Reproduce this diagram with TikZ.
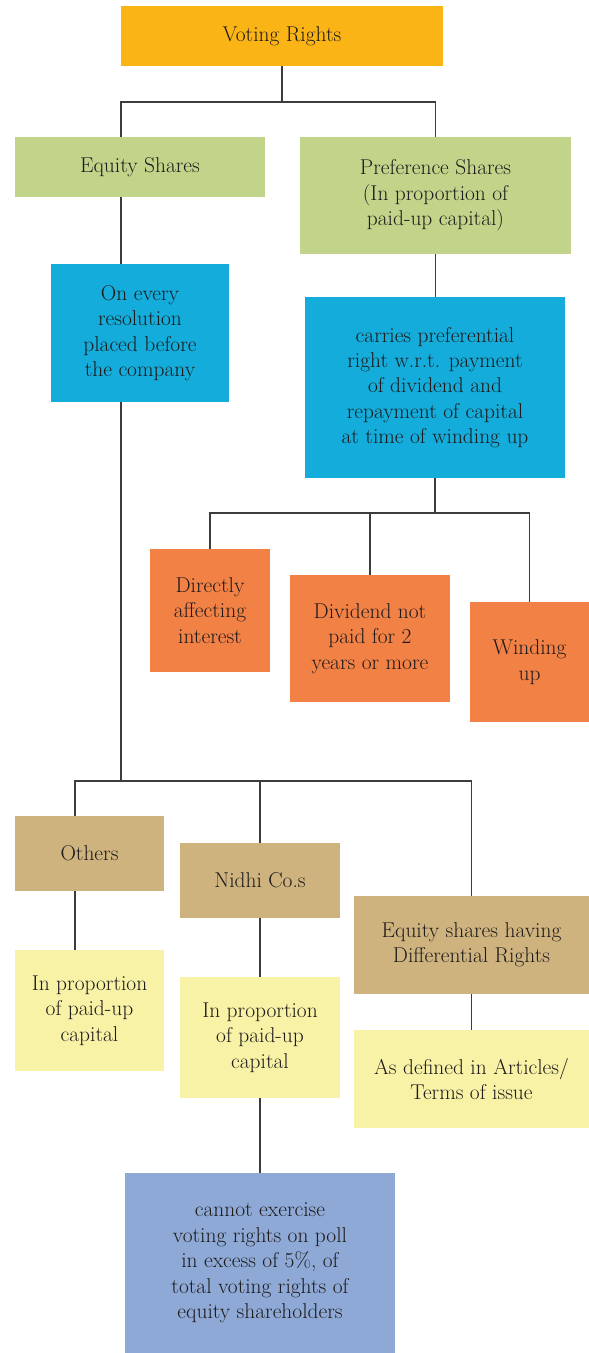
\documentclass[tikz,border=0pt]{standalone}
\definecolor{cGold}{HTML}{FBB416}
\definecolor{cGreen}{HTML}{C1D48A}
\definecolor{cBlue}{HTML}{14ACDA}
\definecolor{cOrange}{HTML}{F28146}
\definecolor{cTan}{HTML}{CEB37F}
\definecolor{cPale}{HTML}{F7F2A5}
\definecolor{cSteel}{HTML}{8EA9D5}
\definecolor{cInk}{HTML}{1E1B1C}
\definecolor{cLine}{HTML}{3C3C3C}
\begin{document}
\begin{tikzpicture}[x=1bp,y=-1bp,
  box/.style={rectangle,draw=none,inner sep=0pt,align=center,text=cInk,
    font=\fontsize{21.5}{25.5}\selectfont},
  link/.style={draw=cLine,line width=1.1bp}]
\useasboundingbox (0,0) rectangle (589,1353);

% boxes
\node[box,fill=cGold,minimum width=322bp,minimum height=60bp] (vr) at (282,36) {Voting Rights};
\node[box,fill=cGreen,minimum width=250bp,minimum height=60bp] (eq) at (140,167) {Equity Shares};
\node[box,fill=cGreen,minimum width=271bp,minimum height=117bp] (pref) at (435.5,195.5) {Preference Shares\\(In proportion of\\paid-up capital)};
\node[box,fill=cBlue,minimum width=178bp,minimum height=138bp] (oe) at (140,333) {On every\\resolution\\placed before\\the company};
\node[box,fill=cBlue,minimum width=260bp,minimum height=181bp] (cr) at (435,387.5) {carries preferential\\right w.r.t. payment\\of dividend and\\repayment of capital\\at time of winding up};
\node[box,fill=cOrange,minimum width=120bp,minimum height=123bp] (da) at (210,610.5) {Directly\\affecting\\interest};
\node[box,fill=cOrange,minimum width=160bp,minimum height=127bp] (dn) at (370,638.5) {Dividend not\\paid for 2\\years or more};
\node[box,fill=cOrange,minimum width=119bp,minimum height=120bp] (wu) at (529.5,662) {Winding\\up};
\node[box,fill=cTan,minimum width=149bp,minimum height=75bp] (ot) at (89.5,853.5) {Others};
\node[box,fill=cTan,minimum width=160bp,minimum height=75bp] (ni) at (260,880.5) {Nidhi Co.s};
\node[box,fill=cTan,minimum width=235bp,minimum height=98bp] (edr) at (471.5,945) {Equity shares having\\Differential Rights};
\node[box,fill=cPale,minimum width=149bp,minimum height=121bp] (y1) at (89.5,1010.5) {In proportion\\of paid-up\\capital};
\node[box,fill=cPale,minimum width=160bp,minimum height=121bp] (y2) at (260,1037.5) {In proportion\\of paid-up\\capital};
\node[box,fill=cPale,minimum width=235bp,minimum height=98bp] (y3) at (471.5,1079) {As defined in Articles/\\Terms of issue};
\node[box,fill=cSteel,minimum width=270bp,minimum height=180bp] (gb) at (260,1263) {cannot exercise\\voting rights on poll\\in excess of 5\%, of\\total voting rights of\\equity shareholders};

% junction points of the connector bars
\coordinate (t1) at (121,102);
\coordinate (b2) at (0,513);
\coordinate (b3) at (75,781);

% top level
\draw[link] (vr.south) -- (vr.south |- t1);
\draw[link] (t1 |- eq.north) -- (t1) -| (pref.north);

% equity branch
\draw[link] (t1 |- eq.south) -- (t1 |- oe.north);
\draw[link] (t1 |- oe.south) -- (t1 |- b3);
\draw[link] (b3 |- ot.north) -- (b3) -| (edr.north);
\draw[link] (ni.north) -- (ni.north |- b3);
\draw[link] (b3 |- ot.south) -- (b3 |- y1.north);
\draw[link] (ni.south) -- (y2.north);
\draw[link] (edr.south) -- (y3.north);
\draw[link] (y2.south) -- (gb.north);

% preference branch
\draw[link] (pref.south) -- (pref.south |- cr.north);
\draw[link] (cr.south) -- (cr.south |- b2);
\draw[link] (da.north) |- (wu.north |- b2) -- (wu.north);
\draw[link] (dn.north) -- (dn.north |- b2);
\end{tikzpicture}
\end{document}
